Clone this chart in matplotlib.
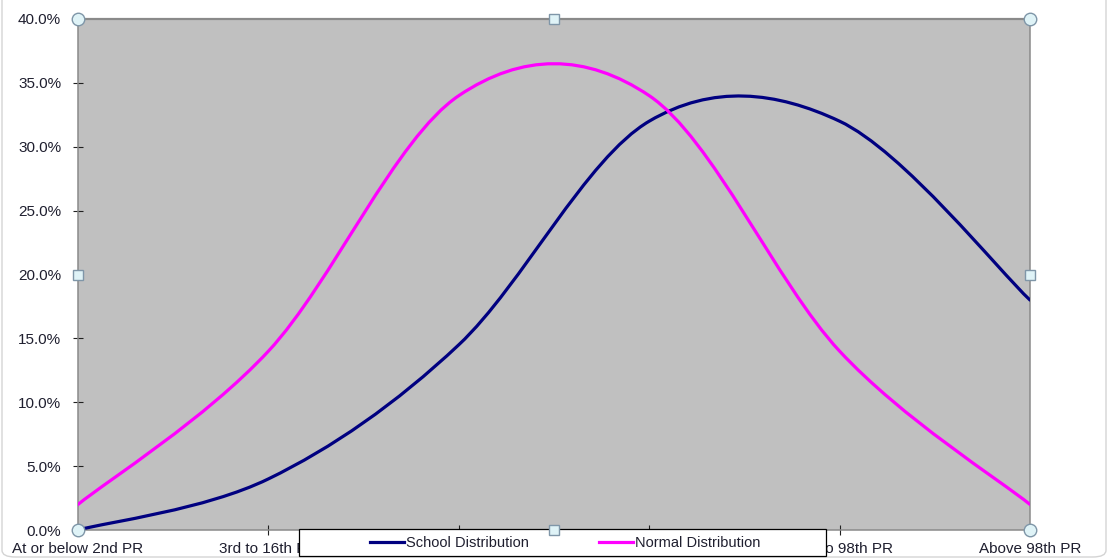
import numpy as np
import matplotlib
matplotlib.use("Agg")
import matplotlib.pyplot as plt
from matplotlib.path import Path
from matplotlib.patches import PathPatch, Rectangle, FancyBboxPatch
from matplotlib.lines import Line2D
from matplotlib import ticker

plt.rcParams['font.family'] = ['Liberation Sans', 'DejaVu Sans']

# Dados
categorias = ["At or below 2nd PR", "3rd to 16th PR", "17th to 50th PR",
              "51st to 84th PR", "85th to 98th PR", "Above 98th PR"]
escola = [0.0, 4.0, 14.5, 32.0, 32.0, 18.0]
normal = [2.0, 14.0, 34.0, 34.0, 14.0, 2.0]
nomes = ["School Distribution", "Normal Distribution"]
cores = ["#000080", "#FF00FF"]


def curva_suave(xs, ys):
    # spline suave estilo Excel (Catmull-Rom em Bezier cubica)
    p = np.column_stack([xs, ys]).astype(float)
    ext = np.vstack([p[0], p, p[-1]])
    verts = [p[0]]
    codes = [Path.MOVETO]
    for i in range(len(p) - 1):
        a, b, c, d = ext[i], ext[i + 1], ext[i + 2], ext[i + 3]
        verts += [b + (c - a) / 6, c - (d - b) / 6, c]
        codes += [Path.CURVE4] * 3
    return Path(verts, codes)


fig = plt.figure(figsize=(11.08, 5.6), dpi=100)
ax = fig.add_axes([78 / 1108, 30 / 560, 952 / 1108, 511 / 560])
ax.set_facecolor("#C0C0C0")

x = np.arange(len(categorias))
for serie, cor in zip([escola, normal], cores):
    ax.add_patch(PathPatch(curva_suave(x, serie), facecolor="none",
                           edgecolor=cor, lw=2.3, zorder=3, capstyle="round"))

ax.set_xlim(0, len(categorias) - 1)
ax.set_ylim(0, 40)
ax.set_yticks(np.arange(0, 40.1, 5))
ax.yaxis.set_major_formatter(ticker.FormatStrFormatter('%.1f%%'))
ax.set_xticks(x)
ax.set_xticklabels(categorias)
# os rotulos do meio ficam escondidos atras da legenda
for lab in ax.get_xticklabels()[2:4]:
    lab.set_visible(False)

for s in ax.spines.values():
    s.set_color("#8a8a8a")
    s.set_linewidth(1.1)
ax.spines['top'].set_linewidth(1.6)

ax.tick_params(axis='y', direction='inout', length=7.2, width=0.8,
               color="#202020", pad=8.5, labelsize=11, labelcolor="#1f1f2f")
ax.tick_params(axis='x', direction='inout', length=7.2, width=0.8,
               color="#202020", pad=5, labelsize=11, labelcolor="#1f1f2f")

# legenda
ax.add_patch(Rectangle((299 / 1108, 4 / 560), 527 / 1108, 27 / 560,
                       transform=fig.transFigure, facecolor="white",
                       edgecolor="black", lw=0.9, clip_on=False, zorder=6))
alcas = [Line2D([], [], color=c, lw=2.3) for c in cores]
leg = ax.legend(alcas, nomes, loc='center', ncol=2, frameon=False,
                bbox_to_anchor=(565.5 / 1108, 17 / 560),
                bbox_transform=fig.transFigure, fontsize=10.5,
                handlelength=2.33, handletextpad=0.14, columnspacing=4.8,
                borderaxespad=0, borderpad=0)
leg.set_zorder(7)
for t in leg.get_texts():
    t.set_color("#1f1f2f")

# marcadores de selecao do Excel
ax.plot([0, 1, 0, 1], [0, 0, 1, 1], 'o', ms=9, mfc="#dff3f7", mec="#7f96a8",
        mew=1.0, transform=ax.transAxes, clip_on=False, zorder=10)
ax.plot([0.5, 0.5, 0, 1], [0, 1, 0.5, 0.5], 's', ms=7.5, mfc="#dff3f7",
        mec="#7f96a8", mew=1.0, transform=ax.transAxes, clip_on=False, zorder=10)

# borda da area do grafico (o topo fica fora da imagem)
fig.patches.append(FancyBboxPatch((2 / 1108, 3 / 560), 1104 / 1108, 1.1,
                                  boxstyle="round,pad=0,rounding_size=0.012",
                                  transform=fig.transFigure, facecolor="none",
                                  edgecolor="#d4d4d4", lw=1.0, zorder=-1))

fig.savefig("out.png", dpi=100)
